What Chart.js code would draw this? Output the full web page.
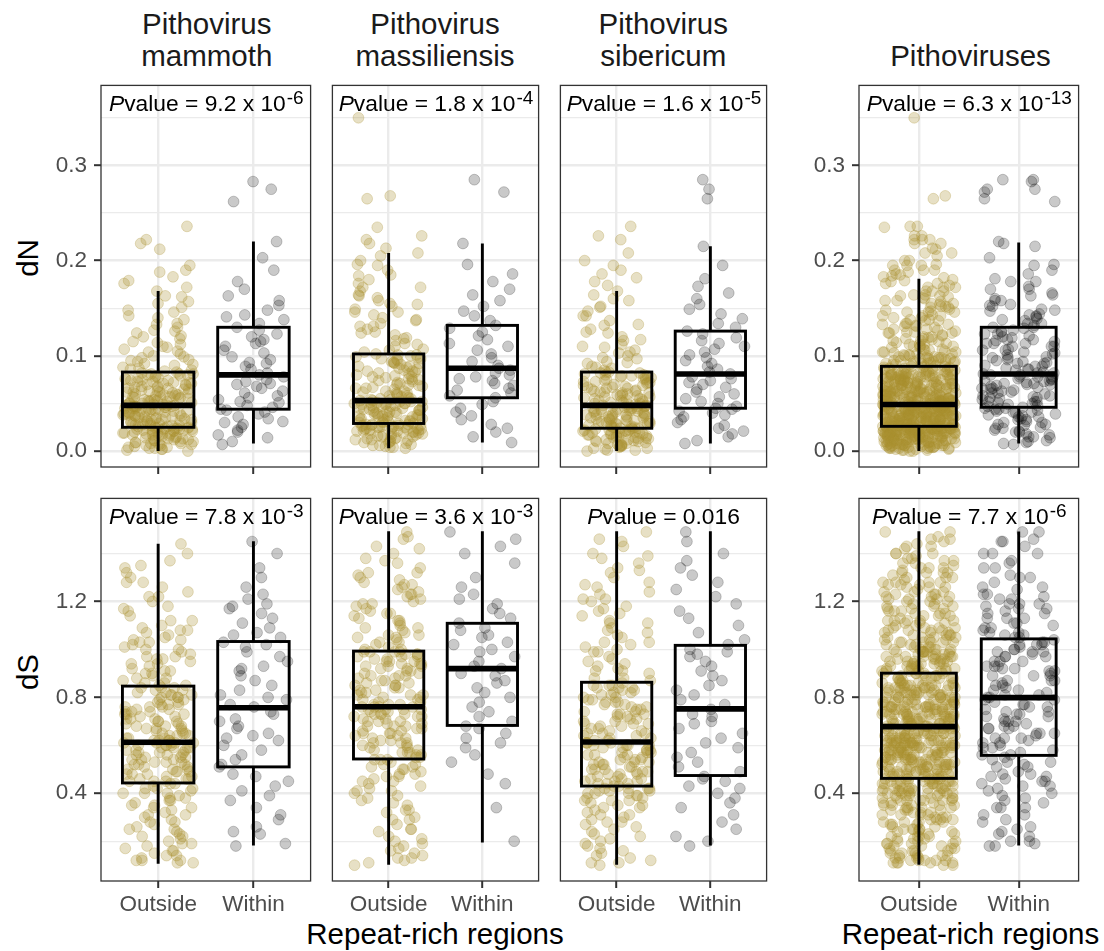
<!DOCTYPE html>
<html>
<head>
<meta charset="utf-8">
<script src="https://cdn.jsdelivr.net/npm/chart.js@4.4.0/dist/chart.umd.min.js"></script>
<style>
  body { margin: 0; background: #fff; width: 1104px; height: 951px; position: relative; overflow: hidden;
         font-family: "Liberation Sans", Arial, sans-serif; }
  canvas { position: absolute; }
  .txt { position: absolute; white-space: nowrap; font-size: 29.5px; line-height: 32px; text-align: center; }
  .strip { color: #1a1a1a; transform: translateX(-50%); }
  .axt { color: #000; transform: translateX(-50%); }
  .yt { color: #000; transform: translate(-50%, -50%) rotate(-90deg); }
</style>
</head>
<body>
<div id="labels"></div>
<script>
// ---- data ----
const categories = ['Outside', 'Within'];
const titles = [['Pithovirus', 'mammoth'], ['Pithovirus', 'massiliensis'], ['Pithovirus', 'sibericum'], ['Pithoviruses']];

const dnTicks = [0, 0.05, 0.1, 0.15, 0.2, 0.25, 0.3, 0.35];
const dnMajor = [0, 0.1, 0.2, 0.3];
const dsTicks = [0.2, 0.4, 0.6, 0.8, 1.0, 1.2, 1.4];
const dsMajor = [0.4, 0.8, 1.2];

const dnPText = ['9.2 x 10', '1.8 x 10', '1.6 x 10', '6.3 x 10'];
const dnPExp = ['-6', '-4', '-5', '-13'];
const dsPText = ['7.8 x 10', '3.6 x 10', '0.016', '7.7 x 10'];
const dsPExp = ['-3', '-3', '', '-6'];

// box stats: [lower whisker, q1, median, q3, upper whisker]
const dnBoxOutside = [[0.000, 0.025, 0.048, 0.083, 0.168], [0.003, 0.029, 0.053, 0.102, 0.208], [0.000, 0.024, 0.048, 0.083, 0.168], [0.000, 0.026, 0.049, 0.089, 0.181]];
const dnBoxWithin = [[0.008, 0.044, 0.080, 0.130, 0.220], [0.009, 0.056, 0.087, 0.132, 0.218], [0.008, 0.045, 0.081, 0.126, 0.215], [0.008, 0.046, 0.081, 0.130, 0.219]];
const dsBoxOutside = [[0.106, 0.443, 0.613, 0.847, 1.441], [0.102, 0.543, 0.761, 0.993, 1.493], [0.102, 0.430, 0.614, 0.863, 1.493], [0.102, 0.462, 0.678, 0.901, 1.493]];
const dsBoxWithin = [[0.182, 0.510, 0.757, 1.033, 1.451], [0.195, 0.683, 0.920, 1.109, 1.493], [0.182, 0.474, 0.752, 1.017, 1.493], [0.182, 0.558, 0.799, 1.044, 1.492]];

const mammothDnOutside = [.000,.001,.002,.003,.003,.004,.005,.006,.006,.007,.008,.009,.010,.010,.011,.012,.013,.013,.014,.015,.015,.016,.017,.017,.018,.019,.019,.020,.020,.021,.021,.022,.022,.023,.023,.023,.024,.024,.024,.024,
  .025,.025,.026,.027,.027,.028,.029,.029,.030,.031,.031,.032,.033,.033,.034,.035,.035,.036,.037,.037,.038,.039,.039,.040,.041,.041,.042,.042,.043,.044,.044,.045,.045,.046,.046,.047,.047,.047,.048,.048,
  .049,.050,.050,.051,.052,.053,.053,.054,.055,.056,.057,.057,.058,.059,.060,.061,.062,.062,.063,.064,.065,.066,.067,.068,.069,.070,.071,.072,.072,.073,.074,.075,.076,.077,.078,.079,.080,.081,.081,.082,
  .083,.085,.086,.088,.090,.092,.094,.096,.098,.100,.102,.105,.107,.110,.112,.115,.118,.121,.124,.127,.130,.134,.138,.142,.146,.151,.157,.163,.168,.172,.176,.179,.183,.188,.190,.195,.212,.218,.222,.236,
  .002,.004,.007,.009,.011,.012,.014,.016,.018,.019,.021,.022,.023,.025,.026,.028,.029,.030,.032,.033,.034,.036,.037,.038,.040,.041,.042,.043,.045,.046,.047,.049,.050,.051,.052,.054,.055,.056,.058,.059,
  .060,.062,.063,.065,.066,.068,.070,.071,.073,.075,.077,.079,.081,.084,.087,.091,.095,.099,.104,.109,.114,.120,.126,.133,.140,.148,.155,.162,.008,.013,.018,.024,.027,.031,.035,.039,.044,.048,.053,.057,
  .061,.067,.074,.080];
const mammothDnWithin = [.007,.010,.014,.017,.020,.022,.025,.028,.031,.034,.036,.039,.041,.043,.044,
  .046,.048,.051,.054,.056,.058,.061,.063,.066,.068,.070,.073,.075,.078,.080,
  .082,.086,.089,.093,.096,.099,.103,.106,.110,.113,.117,.120,.123,.127,.130,
  .134,.138,.143,.148,.153,.158,.163,.170,.178,.190,.203,.220,.262,.275,.283,
  .030,.052,.071,.092,.115,.141];
const massiliensisDnOutside = [.003,.004,.005,.006,.007,.008,.009,.010,.011,.012,.013,.014,.015,.015,.016,.017,.018,.018,.019,.020,.020,.021,.021,.022,.022,.023,.023,.024,.024,.025,.025,.025,.026,.026,.026,.027,.027,.027,.028,.028,
  .029,.029,.030,.031,.031,.032,.033,.033,.034,.035,.035,.036,.037,.037,.038,.039,.039,.040,.041,.041,.042,.043,.043,.044,.045,.045,.046,.047,.047,.048,.049,.049,.050,.050,.051,.051,.052,.052,.053,.053,
  .054,.055,.057,.058,.059,.061,.062,.063,.065,.066,.067,.069,.070,.071,.073,.074,.075,.077,.078,.079,.080,.082,.083,.084,.086,.087,.088,.089,.091,.092,.093,.094,.095,.096,.097,.098,.099,.100,.101,.102,
  .104,.107,.110,.113,.116,.119,.122,.125,.128,.131,.134,.137,.140,.143,.146,.149,.152,.155,.158,.161,.164,.168,.172,.176,.180,.185,.190,.195,.200,.205,.208,.213,.218,.222,.226,.235,.265,.268,.350,
  .004,.006,.009,.011,.013,.015,.017,.019,.021,.023,.025,.027,.028,.030,.032,.034,.036,.038,.040,.042,.044,.046,.048,.050,.052,.054,.056,.058,.060,.063,.066,.069,.072,.075,.078,.081,.085,.089,.093,.097,
  .101,.106,.112,.118,.124,.131,.138,.146,.154,.163,.172,.184,.196,.012,.018,.024,.031,.037,.043,.049,.055,.061,.068,.076,.084,.092];
const massiliensisDnWithin = [.009,.015,.020,.024,.028,.033,.037,.041,.045,.049,.052,.056,
  .058,.061,.064,.066,.069,.071,.074,.076,.078,.080,.082,.085,.087,
  .090,.094,.098,.102,.106,.110,.113,.117,.121,.125,.129,.132,
  .137,.142,.147,.152,.158,.164,.170,.178,.186,.196,.218,.272,.285];
const sibericumDnOutside = [.000,.001,.002,.003,.004,.005,.006,.006,.007,.008,.009,.010,.011,.011,.012,.013,.014,.014,.015,.016,.016,.017,.017,.018,.018,.019,.019,.020,.020,.021,.021,.022,.022,.023,.023,.024,.024,
  .025,.025,.026,.027,.027,.028,.029,.029,.030,.031,.032,.032,.033,.034,.034,.035,.036,.036,.037,.038,.038,.039,.040,.040,.041,.042,.042,.043,.044,.044,.045,.045,.046,.046,.047,.047,.048,.048,
  .049,.050,.051,.052,.053,.054,.055,.056,.057,.058,.059,.060,.061,.062,.063,.064,.065,.066,.067,.068,.069,.070,.071,.072,.073,.074,.075,.076,.077,.077,.078,.079,.080,.080,.081,.082,.082,.083,
  .085,.087,.089,.092,.094,.097,.100,.103,.106,.109,.112,.116,.120,.124,.128,.132,.137,.142,.147,.152,.158,.164,.168,.174,.178,.182,.186,.190,.195,.200,.208,.222,.226,.236,
  .001,.003,.005,.008,.010,.012,.014,.016,.018,.020,.022,.024,.026,.028,.030,.031,.033,.035,.037,.039,.041,.043,.045,.047,.049,.051,.053,.055,.057,.059,.061,.063,.066,.069,.072,.075,.079,.083,.088,.093,
  .098,.104,.110,.117,.125,.133,.142,.151,.160,.007,.013,.019,.025,.029,.034,.038,.042,.046,.050,.054,.058,.062,.067,.073,.079];
const sibericumDnWithin = [.008,.011,.015,.018,.021,.024,.027,.030,.033,.036,.038,.040,.042,.044,.045,
  .047,.050,.052,.055,.057,.060,.062,.065,.067,.070,.072,.074,.076,.078,.081,
  .083,.086,.089,.092,.095,.098,.101,.104,.107,.110,.113,.116,.119,.123,.126,
  .130,.134,.139,.144,.149,.154,.160,.166,.173,.181,.195,.215,.265,.275,.285];

const mammothDsOutside = [.11,.11,.12,.12,.13,.14,.15,.16,.17,.18,.19,.20,.21,.22,.23,.24,.25,.26,.27,.28,.29,.30,.31,.32,.33,.34,.35,.35,.36,.37,.38,.38,.39,.40,.40,.41,.42,.42,.43,.44,
  .45,.45,.46,.46,.47,.47,.48,.48,.49,.49,.50,.50,.51,.51,.52,.52,.53,.53,.54,.54,.55,.55,.56,.56,.57,.57,.58,.58,.59,.59,.59,.60,.60,.60,.61,.61,.61,.61,.62,.62,
  .62,.63,.63,.64,.64,.65,.65,.66,.67,.67,.68,.68,.69,.70,.70,.71,.71,.72,.73,.73,.74,.74,.75,.76,.76,.77,.77,.78,.79,.79,.80,.80,.81,.81,.82,.83,.83,.84,.84,.85,
  .86,.87,.88,.89,.90,.91,.92,.93,.94,.95,.96,.97,.98,.99,1.00,1.01,1.02,1.03,1.04,1.05,1.06,1.07,1.08,1.09,1.10,1.12,1.14,1.16,1.18,1.20,1.22,1.24,1.26,1.28,1.30,1.32,1.34,1.37,1.40,1.44,
  .12,.14,.16,.19,.22,.25,.28,.31,.34,.37,.40,.42,.44,.46,.48,.50,.52,.54,.55,.57,.58,.60,.61,.63,.64,.66,.67,.69,.70,.72,.73,.75,.76,.78,.80,.82,.84,.86,.88,.91,
  .94,.97,1.00,1.04,1.08,1.12,1.17,1.22,1.28,1.35,.45,.49,.53,.56,.59,.62,.65,.68,.71,.74,.77,.81,.85,.90,.96,1.03];
const mammothDsWithin = [.18,.19,.23,.24,.26,.29,.31,.34,.37,.39,.41,.43,.45,.48,.51,
  .52,.54,.56,.58,.60,.62,.63,.65,.67,.68,.70,.71,.73,.74,.76,
  .77,.79,.81,.83,.85,.87,.89,.91,.93,.95,.97,.99,1.01,1.02,1.03,
  1.05,1.07,1.09,1.11,1.13,1.15,1.17,1.19,1.21,1.23,1.26,1.30,1.34,1.40,1.45,
  .47,.64,.80,.92,1.06,1.18];
const massiliensisDsOutside = [.10,.11,.12,.13,.14,.16,.17,.19,.20,.22,.24,.25,.27,.29,.30,.32,.33,.35,.36,.38,.39,.40,.41,.42,.43,.44,.45,.46,.47,.47,.48,.49,.50,.50,.51,.52,.52,.53,.54,.54,
  .55,.55,.56,.57,.57,.58,.59,.59,.60,.61,.61,.62,.63,.63,.64,.65,.65,.66,.67,.67,.68,.68,.69,.70,.70,.71,.71,.72,.72,.73,.73,.74,.74,.75,.75,.75,.76,.76,.76,.76,
  .77,.78,.78,.79,.80,.80,.81,.82,.82,.83,.84,.84,.85,.86,.86,.87,.88,.88,.89,.90,.90,.91,.92,.92,.93,.93,.94,.94,.95,.95,.96,.96,.97,.97,.98,.98,.98,.99,.99,.99,
  1.00,1.01,1.02,1.03,1.04,1.05,1.06,1.07,1.08,1.09,1.10,1.11,1.12,1.13,1.14,1.15,1.16,1.17,1.18,1.19,1.20,1.21,1.22,1.23,1.24,1.25,1.26,1.27,1.28,1.29,1.30,1.31,1.32,1.34,1.36,1.38,1.40,1.43,1.46,1.49,
  .13,.15,.18,.21,.25,.29,.33,.37,.41,.45,.48,.51,.54,.56,.58,.60,.62,.64,.66,.68,.70,.72,.73,.75,.77,.79,.81,.83,.85,.87,.89,.91,.93,.95,.97,1.00,1.03,1.06,1.09,1.12,
  1.15,1.19,1.23,1.27,1.32,1.37,1.42,1.47,.57,.61,.65,.69,.73,.77,.81,.85,.89,.94,.99,1.05];
const massiliensisDsWithin = [.20,.34,.44,.48,.53,.56,.59,.61,.63,.65,.67,.68,
  .70,.72,.74,.76,.78,.80,.82,.84,.86,.87,.89,.90,.92,
  .93,.95,.97,.99,1.00,1.02,1.03,1.05,1.06,1.08,1.09,1.11,
  1.13,1.15,1.17,1.19,1.21,1.23,1.26,1.30,1.36,1.40,1.43,1.46,1.49];
const sibericumDsOutside = [.10,.11,.12,.14,.15,.17,.19,.21,.23,.24,.26,.27,.28,.29,.30,.31,.32,.33,.34,.35,.35,.36,.37,.37,.38,.38,.39,.39,.40,.40,.41,.41,.42,.42,.42,.43,.43,
  .44,.44,.45,.45,.46,.46,.47,.47,.48,.48,.49,.49,.50,.50,.51,.51,.52,.52,.53,.53,.54,.54,.55,.55,.56,.56,.57,.57,.58,.58,.59,.59,.60,.60,.60,.61,.61,.61,
  .62,.63,.63,.64,.65,.65,.66,.67,.67,.68,.69,.69,.70,.71,.71,.72,.73,.73,.74,.75,.75,.76,.77,.77,.78,.79,.79,.80,.81,.81,.82,.83,.83,.84,.84,.85,.85,.86,
  .87,.88,.90,.91,.93,.94,.96,.97,.99,1.00,1.02,1.03,1.05,1.06,1.08,1.09,1.11,1.12,1.14,1.15,1.17,1.18,1.20,1.21,1.23,1.24,1.26,1.28,1.30,1.32,1.34,1.36,1.38,1.40,1.43,1.46,1.49,
  .11,.13,.16,.18,.20,.22,.25,.28,.31,.34,.37,.40,.42,.44,.46,.48,.50,.52,.54,.56,.58,.60,.62,.64,.66,.68,.70,.72,.74,.76,.78,.80,.82,.85,.88,.91,.95,.99,1.03,1.07,
  1.11,1.16,1.21,1.27,1.33,1.39,1.45,.41,.45,.49,.53,.57,.61,.65,.69,.73,.78,.84,.92,1.01];
const sibericumDsWithin = [.18,.20,.22,.25,.28,.31,.34,.36,.38,.40,.42,.43,.45,.46,.47,
  .49,.51,.53,.55,.57,.59,.61,.63,.65,.67,.69,.70,.72,.73,.75,
  .77,.79,.81,.83,.85,.87,.89,.91,.93,.95,.97,.98,.99,1.00,1.02,
  1.04,1.07,1.10,1.13,1.16,1.19,1.22,1.25,1.28,1.31,1.34,1.37,1.40,1.45,1.49];

// the pooled panel is all three viruses together
const pithoDnOutside = [...mammothDnOutside, ...massiliensisDnOutside, ...sibericumDnOutside];
const pithoDnWithin = [...mammothDnWithin, ...massiliensisDnWithin, ...sibericumDnWithin];
const pithoDsOutside = [...mammothDsOutside, ...massiliensisDsOutside, ...sibericumDsOutside];
const pithoDsWithin = [...mammothDsWithin, ...massiliensisDsWithin, ...sibericumDsWithin];

// ---- layout ----
const PLOT_X = [[100.5, 313], [328.75, 541.25], [557, 769.5], [859, 1082]];
const PLOT_Y = [[82, 466.7], [495, 880.7]];
const PAD = 3;
const BOX_HALF = 0.375;
const JIT = 0.37;
const FONT = '"Liberation Sans", Arial, sans-serif';
const GOLD = 'rgba(168, 143, 48, 0.28)';
const GREY = 'rgba(0, 0, 0, 0.21)';

const rows = [
  { label: 'dN', min: -0.0167, max: 0.384, ticks: dnTicks, major: dnMajor, digits: 1,
    outside: [mammothDnOutside, massiliensisDnOutside, sibericumDnOutside, pithoDnOutside],
    within: [mammothDnWithin, massiliensisDnWithin, sibericumDnWithin, pithoDnWithin],
    boxO: dnBoxOutside, boxW: dnBoxWithin, pText: dnPText, pExp: dnPExp },
  { label: 'dS', min: 0.034, max: 1.630, ticks: dsTicks, major: dsMajor, digits: 1,
    outside: [mammothDsOutside, massiliensisDsOutside, sibericumDsOutside, pithoDsOutside],
    within: [mammothDsWithin, massiliensisDsWithin, sibericumDsWithin, pithoDsWithin],
    boxO: dsBoxOutside, boxW: dsBoxWithin, pText: dsPText, pExp: dsPExp }
];

// fixed pseudo-jitter, like geom_jitter but repeatable
function jit(i, seed) {
  const s = Math.sin((i + 1) * 12.9898 + seed * 78.233) * 43758.5453;
  return (s - Math.floor(s)) - 0.5;
}

const isMajor = (v, major) => major.some(m => Math.abs(m - v) < 1e-9);

function addText(cls, text, left, top) {
  const d = document.createElement('div');
  d.className = 'txt ' + cls;
  d.innerHTML = text;
  d.style.left = left + 'px';
  d.style.top = top + 'px';
  document.getElementById('labels').appendChild(d);
}

rows.forEach((row, r) => {
  PLOT_X.forEach(([l, rgt], p) => {
    const [t, b] = PLOT_Y[r];
    const showY = p === 0 || p === 3;
    const showX = r === 1;
    const axisW = showY ? 70 : 0;
    const axisH = showX ? 45 : 10;

    const cv = document.createElement('canvas');
    const w = (rgt - l) + axisW + 2 * PAD;
    const h = (b - t) + axisH + 2 * PAD;
    cv.width = Math.round(w);
    cv.height = Math.round(h);
    cv.style.left = (l - axisW - PAD) + 'px';
    cv.style.top = (t - PAD) + 'px';
    document.body.appendChild(cv);

    const seed = r * 10 + p;
    const toPts = (vals, cat, s) => vals.map((v, i) => ({ x: cat + jit(i, s) * 2 * JIT, y: v }));

    const boxes = {
      id: 'boxes',
      afterDatasetsDraw(chart) {
        const { ctx, scales: { x, y } } = chart;
        ctx.save();
        ctx.strokeStyle = '#000';
        [row.boxO[p], row.boxW[p]].forEach((s, i) => {
          const cx = x.getPixelForValue(i + 1);
          const x0 = x.getPixelForValue(i + 1 - BOX_HALF);
          const x1 = x.getPixelForValue(i + 1 + BOX_HALF);
          const [lo, q1, med, q3, hi] = s.map(v => y.getPixelForValue(v));
          ctx.lineWidth = 2.9;
          ctx.beginPath();
          ctx.moveTo(cx, q1); ctx.lineTo(cx, lo);
          ctx.moveTo(cx, q3); ctx.lineTo(cx, hi);
          ctx.stroke();
          ctx.strokeRect(x0, q3, x1 - x0, q1 - q3);
          ctx.lineWidth = 5.6;
          ctx.beginPath();
          ctx.moveTo(x0, med); ctx.lineTo(x1, med);
          ctx.stroke();
        });
        ctx.restore();
      },
      afterDraw(chart) {
        const { ctx, chartArea: a } = chart;
        ctx.save();
        ctx.strokeStyle = '#333333';
        ctx.lineWidth = 1.3;
        ctx.strokeRect(a.left, a.top, a.right - a.left, a.bottom - a.top);
        // P value annotation
        const main = 22.8, sup = 19;
        const rest = 'value = ' + row.pText[p];
        const ex = row.pExp[p];
        ctx.fillStyle = '#000';
        ctx.textBaseline = 'alphabetic';
        ctx.font = 'italic ' + main + 'px ' + FONT;
        const wP = ctx.measureText('P').width;
        ctx.font = main + 'px ' + FONT;
        const wR = ctx.measureText(rest).width;
        ctx.font = sup + 'px ' + FONT;
        const wE = ex ? ctx.measureText(ex).width : 0;
        const x0 = (a.left + a.right) / 2 - (wP + wR + wE) / 2;
        const by = a.top + 26;
        ctx.font = 'italic ' + main + 'px ' + FONT;
        ctx.fillText('P', x0, by);
        ctx.font = main + 'px ' + FONT;
        ctx.fillText(rest, x0 + wP, by);
        if (ex) {
          ctx.font = sup + 'px ' + FONT;
          ctx.fillText(ex, x0 + wP + wR + 1, by - 7);
        }
        ctx.restore();
      }
    };

    new Chart(cv, {
      type: 'scatter',
      data: {
        datasets: [
          { data: toPts(row.outside[p], 1, seed), backgroundColor: GOLD, borderColor: GOLD,
            pointRadius: 5.4, pointBorderWidth: 1 },
          { data: toPts(row.within[p], 2, seed + 100), backgroundColor: GREY, borderColor: GREY,
            pointRadius: 5.4, pointBorderWidth: 1 }
        ]
      },
      options: {
        responsive: false,
        animation: false,
        events: [],
        layout: { padding: { left: PAD, right: PAD, top: PAD, bottom: PAD } },
        plugins: { legend: { display: false }, tooltip: { enabled: false } },
        scales: {
          x: {
            type: 'linear', min: 0.4, max: 2.6,
            afterBuildTicks: s => { s.ticks = [{ value: 1 }, { value: 2 }]; },
            afterFit: s => { s.height = axisH; s.paddingLeft = 0; s.paddingRight = 0; },
            ticks: {
              callback: v => showX ? categories[v - 1] : '',
              color: '#4d4d4d', font: { family: FONT, size: 22.5 }, padding: 3,
              maxRotation: 0, autoSkip: false
            },
            grid: { color: '#ebebeb', lineWidth: 2.4, tickLength: 7, tickColor: '#333333', tickWidth: 2 },
            border: { display: false }
          },
          y: {
            min: row.min, max: row.max,
            afterBuildTicks: s => { s.ticks = row.ticks.map(v => ({ value: v })); },
            afterFit: s => { s.width = axisW; s.paddingTop = 0; s.paddingBottom = 0; },
            ticks: {
              display: showY,
              callback: v => isMajor(v, row.major) ? v.toFixed(row.digits) : '',
              color: '#4d4d4d', font: { family: FONT, size: 22.5 }, padding: 7, autoSkip: false
            },
            grid: {
              color: '#ebebeb',
              lineWidth: c => isMajor(c.tick.value, row.major) ? 2.4 : 1.2,
              drawTicks: showY, tickLength: 7, tickWidth: 2,
              tickColor: c => isMajor(c.tick.value, row.major) ? '#333333' : 'rgba(0,0,0,0)'
            },
            border: { display: false }
          }
        }
      },
      plugins: [boxes]
    });

    if (r === 0) {
      const cx = (l + rgt) / 2;
      addText('strip', titles[p].join('<br>'), cx, titles[p].length === 2 ? 8 : 40);
    }
  });
  addText('yt', row.label, 27.5, (PLOT_Y[r][0] + PLOT_Y[r][1]) / 2 - 16);
});

addText('axt', 'Repeat-rich regions', (PLOT_X[0][0] + PLOT_X[2][1]) / 2, 918);
addText('axt', 'Repeat-rich regions', (PLOT_X[3][0] + PLOT_X[3][1]) / 2, 918);
</script>
</body>
</html>
